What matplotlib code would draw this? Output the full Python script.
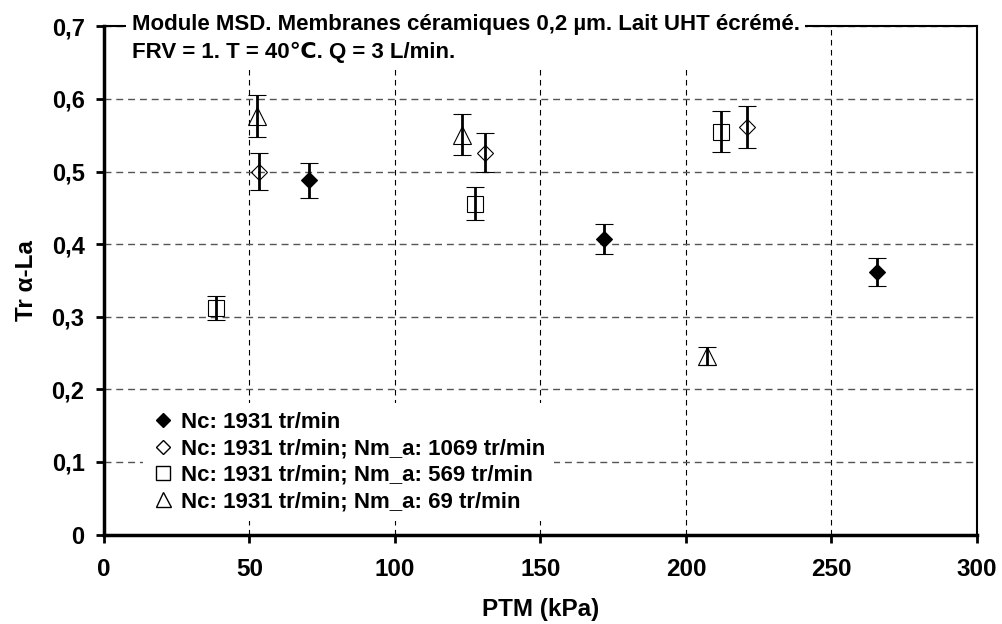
import matplotlib
matplotlib.use("Agg")
import matplotlib.pyplot as plt
from matplotlib.lines import Line2D

plt.rcParams["font.family"] = ["Liberation Sans", "DejaVu Sans"]
plt.rcParams["font.weight"] = "bold"

# PTM (kPa), Tr alpha-La, error
nc_x = [70.6, 171.7, 265.6]
nc_y = [0.488, 0.407, 0.362]
nc_err = [0.024, 0.021, 0.019]

n1069_x = [53.1, 130.9, 221.0]
n1069_y = [0.500, 0.526, 0.561]
n1069_err = [0.025, 0.027, 0.029]

n569_x = [38.5, 127.5, 212.0]
n569_y = [0.312, 0.456, 0.555]
n569_err = [0.016, 0.023, 0.028]

n69_x = [52.7, 123.2, 207.2]
n69_y = [0.577, 0.551, 0.246]
n69_err = [0.029, 0.028, 0.012]

labels = ["Nc: 1931 tr/min",
          "Nc: 1931 tr/min; Nm_a: 1069 tr/min",
          "Nc: 1931 tr/min; Nm_a: 569 tr/min",
          "Nc: 1931 tr/min; Nm_a: 69 tr/min"]

fig = plt.figure(figsize=(10.03, 6.24), dpi=100)
ax = fig.add_axes([0.1037, 0.1434, 0.8703, 0.8143])

eb = dict(ls="none", ecolor="black", elinewidth=2.0, capsize=6.5, capthick=2.0,
          mec="black", mew=0.8, zorder=3)
ax.errorbar(nc_x, nc_y, yerr=nc_err, marker="D", ms=8.5, mfc="black", **eb)
ax.errorbar(n1069_x, n1069_y, yerr=n1069_err, marker="D", ms=8.5, mfc="none", **eb)
ax.errorbar(n569_x, n569_y, yerr=n569_err, marker="s", ms=12, mfc="none", **eb)
ax.errorbar(n69_x, n69_y, yerr=n69_err, marker="^", ms=12.5, mfc="none", **eb)

ax.set_xlim(0, 300)
ax.set_ylim(0, 0.7)
ax.set_xticks([0, 50, 100, 150, 200, 250, 300])
ax.set_yticks([0, 0.1, 0.2, 0.3, 0.4, 0.5, 0.6, 0.7])
ax.set_yticklabels(["0", "0,1", "0,2", "0,3", "0,4", "0,5", "0,6", "0,7"])
ax.tick_params(axis="x", labelsize=17.5, width=2, length=6, pad=11, direction="out")
ax.tick_params(axis="y", labelsize=17, width=2, length=6, pad=8, direction="out")
ax.xaxis.grid(True, color="black", ls=(0, (5, 4)), lw=0.8)
ax.yaxis.grid(True, color="#555555", ls=(0, (5, 3.5)), lw=1.0)
ax.set_axisbelow(True)

ax.spines["left"].set_linewidth(2.5)
ax.spines["bottom"].set_linewidth(2.5)
ax.spines["right"].set_linewidth(1.5)
ax.spines["top"].set_linewidth(1.5)

ax.set_xlabel("PTM (kPa)", fontsize=17.5, fontweight="bold")
ax.set_ylabel("Tr α-La", fontsize=17.5, fontweight="bold")
ax.xaxis.set_label_coords(0.5, -0.124)
ax.yaxis.set_label_coords(-0.076, 0.5)

ax.text(0.0317, 0.976,
        "Module MSD. Membranes céramiques 0,2 µm. Lait UHT écrémé.\n"
        "FRV = 1. T = 40\u2103. Q = 3 L/min.",
        transform=ax.transAxes, ha="left", va="center", fontsize=16,
        fontweight="bold", linespacing=1.4, zorder=5, clip_on=False,
        bbox=dict(facecolor="white", edgecolor="none", pad=4))

handles = [
    Line2D([], [], ls="none", marker="D", ms=7.6, mfc="black", mec="black"),
    Line2D([], [], ls="none", marker="D", ms=7.6, mfc="none", mec="black"),
    Line2D([], [], ls="none", marker="s", ms=9.4, mfc="none", mec="black"),
    Line2D([], [], ls="none", marker="^", ms=10.8, mfc="none", mec="black"),
]
leg = ax.legend(handles, labels, loc="lower left", bbox_to_anchor=(0.0447, 0.0266),
                frameon=True, facecolor="white", edgecolor="none", framealpha=1,
                fancybox=False, prop={"weight": "bold", "size": 16},
                handlelength=1.0, handletextpad=0.3, labelspacing=0.24,
                borderpad=0.4, borderaxespad=0)
leg.set_zorder(4)

fig.savefig("out.png", dpi=100)
